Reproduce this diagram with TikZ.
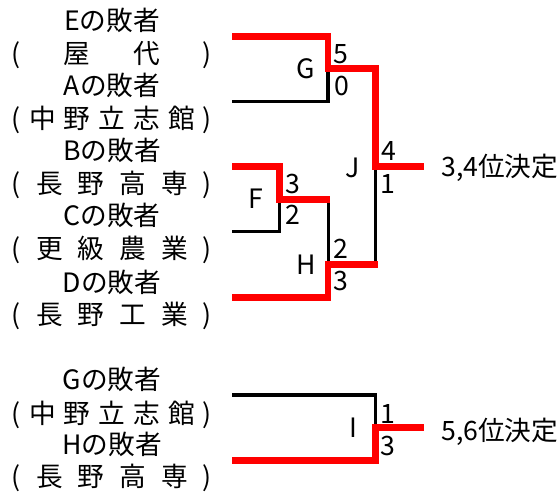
\documentclass[tikz,border=0pt]{standalone}
\usepackage{fontspec}
\setmainfont{Noto Sans CJK JP}
\tikzset{
  win/.style={draw=red, line width=5pt},
  lose/.style={draw=black, line width=2.4pt},
  lbl/.style={font=\fontsize{20}{24}\selectfont, inner sep=0pt, anchor=base},
  res/.style={lbl, anchor=base west},
}
\newcommand{\spreadbox}[1]{\makebox[201px]{#1}}
\begin{document}
\begin{tikzpicture}[x=0.75pt,y=-0.75pt]
\useasboundingbox (0,0) rectangle (560,495);
% team labels
\node[lbl] (tE)  at (112,31)    {Eの敗者};
\node[lbl] (sE)  at (112,64)    {\makebox[150pt]{(\hfill 屋\hfill 代\hfill )}};
\node[lbl] (tA)  at (112,96)    {Aの敗者};
\node[lbl] (sA)  at (112,128.5) {\makebox[150pt]{(\hfill 中\hfill 野\hfill 立\hfill 志\hfill 館\hfill )}};
\node[lbl] (tB)  at (112,161)   {Bの敗者};
\node[lbl] (sB)  at (112,193.5) {\makebox[150pt]{(\hfill 長\hfill 野\hfill 高\hfill 専\hfill )}};
\node[lbl] (tC)  at (112,226)   {Cの敗者};
\node[lbl] (sC)  at (112,258.5) {\makebox[150pt]{(\hfill 更\hfill 級\hfill 農\hfill 業\hfill )}};
\node[lbl] (tD)  at (112,292.5) {Dの敗者};
\node[lbl] (sD)  at (112,324.5) {\makebox[150pt]{(\hfill 長\hfill 野\hfill 工\hfill 業\hfill )}};
\node[lbl] (tG)  at (112,389)   {Gの敗者};
\node[lbl] (sG)  at (112,423)   {\makebox[150pt]{(\hfill 中\hfill 野\hfill 立\hfill 志\hfill 館\hfill )}};
\node[lbl] (tH)  at (112,454)   {Hの敗者};
\node[lbl] (sH)  at (112,486.5) {\makebox[150pt]{(\hfill 長\hfill 野\hfill 高\hfill 専\hfill )}};
% bracket coordinates
\coordinate (e0) at (232,36.7);
\coordinate (a0) at (232,101.7);
\coordinate (b0) at (232,166.7);
\coordinate (c0) at (232,231.7);
\coordinate (d0) at (232,297.3);
\coordinate (g)  at (327.9,68.7);
\coordinate (g1) at (375.7,68.7);
\coordinate (j)  at (375.7,166.5);
\coordinate (j1) at (424,166.5);
\coordinate (f)  at (279.5,199.7);
\coordinate (f1) at (330,199.7);
\coordinate (fh) at (328.6,199.7);
\coordinate (h)  at (328,264.7);
\coordinate (h1) at (377.6,264.7);
\coordinate (gl0) at (232,395);
\coordinate (hl0) at (232,460.5);
\coordinate (i)  at (375.8,427.7);
\coordinate (i1) at (424,427.7);
% losers' lines
\draw[lose] (a0) -| (g);
\draw[lose] (c0) -| (f);
\draw[lose] (fh) -- (fh |- h);
\draw[lose] (j) -- (j |- h);
\draw[lose] (gl0) -| (i);
% winners' lines
\draw[win] (e0) -| (g) -- (g1) -- (j) -- (j1);
\draw[win] (b0) -| (f) -- (f1);
\draw[win] (d0) -| (h) -- (h1);
\draw[win] (hl0) -| (i) -- (i1);
% match labels and scores
\node[lbl] (nG) at (305.8,79)  {G};
\node[lbl] (s5) at (341,63.3)  {5};
\node[lbl] (s0) at (342,95.8)  {0};
\node[lbl] (nJ) at (353,177.5) {J};
\node[lbl] (s4) at (389,160.8) {4};
\node[lbl] (s1) at (388,194)   {1};
\node[lbl] (nF) at (255.8,209) {F};
\node[lbl] (f3) at (292.5,194) {3};
\node[lbl] (f2) at (292.5,225) {2};
\node[lbl] (nH) at (305.8,275) {H};
\node[lbl] (h2) at (341,258.3) {2};
\node[lbl] (h3) at (341,290.8) {3};
\node[lbl] (nI) at (353,437.5) {I};
\node[lbl] (i1s) at (388,423.3) {1};
\node[lbl] (i3s) at (388,455)   {3};
\node[res] (r34) at (441,176.7) {3,4位決定};
\node[res] (r56) at (441,440.8) {5,6位決定};
\end{tikzpicture}
\end{document}
